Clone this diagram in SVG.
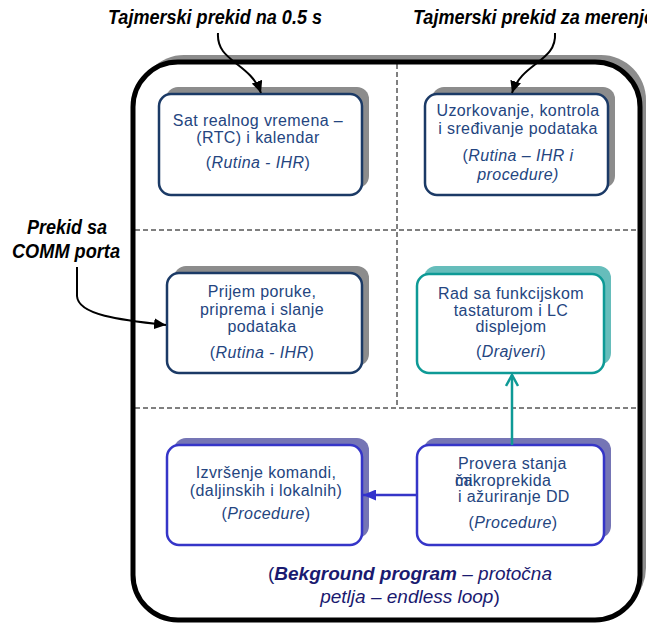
<svg xmlns="http://www.w3.org/2000/svg" width="647" height="626" viewBox="0 0 647 626">
<defs>
<marker id="ah" markerUnits="userSpaceOnUse" markerWidth="13" markerHeight="11" refX="12" refY="5.5" orient="auto"><path d="M0,0 L12,5.5 L0,11 Z" fill="#000"/></marker>
<marker id="ahBlue" markerUnits="userSpaceOnUse" markerWidth="14" markerHeight="11" refX="13" refY="5.5" orient="auto"><path d="M0,0 L13,5.5 L0,11 Z" fill="#3333cc"/></marker>
<marker id="ahTeal" markerUnits="userSpaceOnUse" markerWidth="14" markerHeight="14" refX="12" refY="7" orient="auto"><path d="M1,1 L12,7 L1,13" fill="none" stroke="#0e9a96" stroke-width="2.5"/></marker>
</defs>
<style>
text{font-family:"Liberation Sans",Arial,sans-serif}
.title{font-size:20px;font-weight:bold;font-style:italic;fill:#000}
.bx{font-size:16px;fill:#244580;letter-spacing:0.4px}
.i{font-style:italic}
.navy{fill:#fff;stroke:#1b3a66;stroke-width:2.5}
.teal{fill:#fff;stroke:#0e9a96;stroke-width:2.5}
.blue{fill:#fff;stroke:#3535c8;stroke-width:2.5}
.sh-gray{fill:#8c8c8c}
.sh-teal{fill:#66bdbb}
.sh-blue{fill:#7575b5}
.dash{stroke:#000;stroke-width:1;stroke-dasharray:5 3;fill:none}
.conn{fill:none;stroke:#000;stroke-width:2}
</style>

<!-- outer loop frame -->
<g id="frame">
<rect x="139" y="55" width="507" height="558" rx="45" class="sh-gray"/>
<rect x="133" y="62" width="507" height="558" rx="45" fill="#fff" stroke="#000" stroke-width="5"/>
<line x1="397" y1="64" x2="397" y2="408" class="dash"/>
<line x1="135" y1="230" x2="638" y2="230" class="dash"/>
<line x1="135" y1="408" x2="638" y2="408" class="dash"/>
</g>

<g id="title1"><text x="108" y="24" class="title" textLength="214" lengthAdjust="spacingAndGlyphs">Tajmerski prekid na 0.5 s</text></g>
<g id="title2"><text x="413" y="24" class="title" textLength="241" lengthAdjust="spacingAndGlyphs">Tajmerski prekid za merenje</text></g>
<g id="comm"><text x="27" y="234" class="title" textLength="80" lengthAdjust="spacingAndGlyphs">Prekid sa</text><text x="12" y="258" class="title" textLength="108" lengthAdjust="spacingAndGlyphs">COMM porta</text></g>

<g id="rtc">
<rect x="166" y="87" width="203" height="101" rx="12" class="sh-gray"/>
<rect x="159" y="94" width="203" height="101" rx="12" class="navy"/>
<text class="bx" text-anchor="middle"><tspan x="258" y="126">Sat realnog vremena –</tspan><tspan x="258" y="143">(RTC) i kalendar</tspan><tspan x="258" y="168">(<tspan class="i">Rutina - IHR</tspan>)</tspan></text>
</g>

<g id="uzork">
<rect x="432" y="87" width="183" height="101" rx="12" class="sh-gray"/>
<rect x="425" y="94" width="183" height="101" rx="12" class="navy"/>
<text class="bx" text-anchor="middle"><tspan x="518" y="116">Uzorkovanje, kontrola</tspan><tspan x="518" y="134">i sređivanje podataka</tspan><tspan x="518" y="161">(<tspan class="i">Rutina – IHR i</tspan></tspan><tspan x="518" y="180" class="i">procedure)</tspan></text>
</g>

<g id="prijem">
<rect x="174" y="266" width="195" height="100" rx="12" class="sh-gray"/>
<rect x="167" y="273" width="195" height="100" rx="12" class="navy"/>
<text class="bx" text-anchor="middle"><tspan x="262" y="297">Prijem poruke,</tspan><tspan x="262" y="315">priprema i slanje</tspan><tspan x="262" y="332">podataka</tspan><tspan x="262" y="358">(<tspan class="i">Rutina - IHR</tspan>)</tspan></text>
</g>

<g id="rad">
<rect x="424" y="266" width="187" height="99" rx="12" class="sh-teal"/>
<rect x="417" y="274" width="187" height="99" rx="12" class="teal"/>
<text class="bx" text-anchor="middle"><tspan x="511" y="299">Rad sa funkcijskom</tspan><tspan x="511" y="316">tastaturom i LC</tspan><tspan x="511" y="332">displejom</tspan><tspan x="511" y="357">(<tspan class="i">Drajveri</tspan>)</tspan></text>
</g>

<g id="izvrsenje">
<rect x="174" y="438" width="195" height="100" rx="12" class="sh-blue"/>
<rect x="167" y="445" width="195" height="100" rx="12" class="blue"/>
<text class="bx" text-anchor="middle"><tspan x="266" y="478">Izvršenje komandi,</tspan><tspan x="266" y="496">(daljinskih i lokalnih)</tspan><tspan x="266" y="519">(<tspan class="i">Procedure</tspan>)</tspan></text>
</g>

<g id="provera">
<rect x="424" y="438" width="187" height="100" rx="12" class="sh-blue"/>
<rect x="417" y="445" width="187" height="100" rx="12" class="blue"/>
<text class="bx" x="458" y="469">Provera stanja</text>
<text class="bx" x="455" y="486">mikroprekida</text>
<text class="bx" x="455" y="486">ča</text>
<text class="bx" x="458" y="502">i ažuriranje DD</text>
<text class="bx" text-anchor="middle"><tspan x="513" y="528">(<tspan class="i">Procedure</tspan>)</tspan></text>
</g>

<g id="connectors">
<path d="M218,33 C216,62 250,62 261,93" class="conn" marker-end="url(#ah)"/>
<path d="M555,33 C557,62 522,62 512,93" class="conn" marker-end="url(#ah)"/>
<path d="M77,267 L77,296 C78,315 120,320 166,325" class="conn" marker-end="url(#ah)"/>
<line x1="512" y1="445" x2="512" y2="375" stroke="#0e9a96" stroke-width="2.5" marker-end="url(#ahTeal)"/>
<line x1="417" y1="495" x2="363" y2="495" stroke="#3535c8" stroke-width="2.5" marker-end="url(#ahBlue)"/>
</g>

<g id="caption">
<text font-size="19" fill="#1a1a70" text-anchor="middle"><tspan x="410" y="580">(<tspan font-weight="bold" font-style="italic">Bekground program</tspan><tspan font-style="italic"> – protočna</tspan></tspan><tspan x="410" y="603"><tspan font-style="italic">petlja – endless loop</tspan>)</tspan></text>
</g>
</svg>
